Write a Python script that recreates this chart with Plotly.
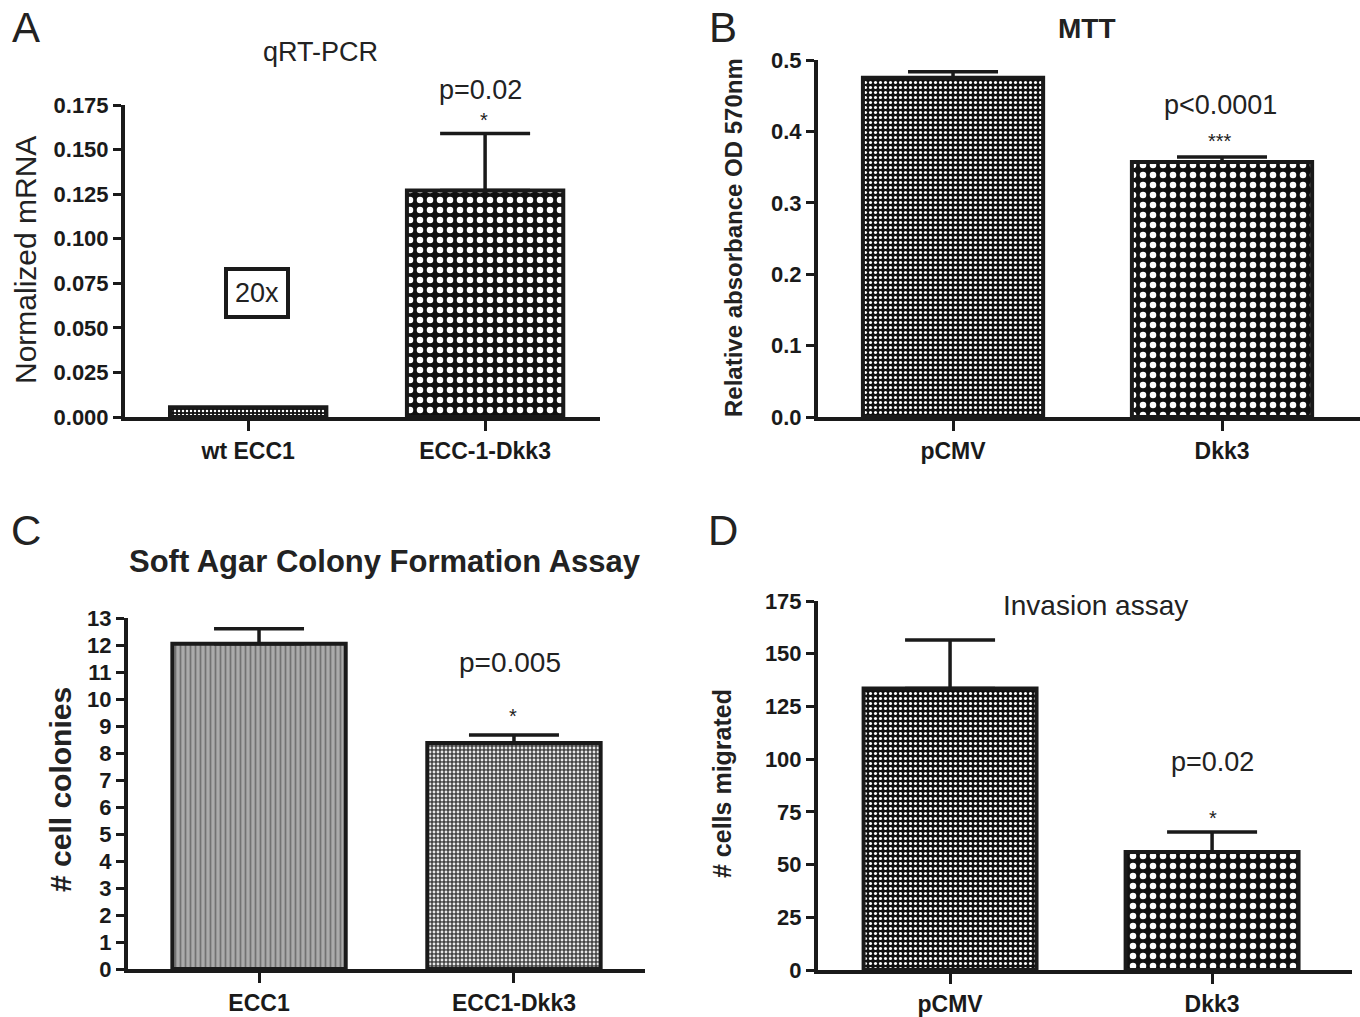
import plotly.graph_objects as go

W, H = 1360, 1017

# ---------------- data ----------------
cats_a = ["wt ECC1", "ECC-1-Dkk3"]
vals_a = [0.0055, 0.127]
err_a = [0.0, 0.032]
ticks_a = [0.0, 0.025, 0.05, 0.075, 0.1, 0.125, 0.15, 0.175]

cats_b = ["pCMV", "Dkk3"]
vals_b = [0.475, 0.357]
err_b = [0.0085, 0.007]
ticks_b = [0.0, 0.1, 0.2, 0.3, 0.4, 0.5]

cats_c = ["ECC1", "ECC1-Dkk3"]
vals_c = [12.05, 8.37]
err_c = [0.55, 0.3]
ticks_c = list(range(0, 14))

cats_d = ["pCMV", "Dkk3"]
vals_d = [133.5, 56.0]
err_d = [23.0, 9.5]
ticks_d = [0, 25, 50, 75, 100, 125, 150, 175]

FONT = "Liberation Sans, Arial, sans-serif"
INK = "#1a1a1a"

def px(x):
    return x / W

def py(y):
    return 1 - y / H

fig = go.Figure()

def add_panel(idx, cats, vals, errs, patterns, width):
    xa = "x" if idx == 1 else f"x{idx}"
    ya = "y" if idx == 1 else f"y{idx}"
    for i, (c, v, e) in enumerate(zip(cats, vals, errs)):
        pat = patterns[i]
        fig.add_trace(go.Bar(
            x=[c], y=[v], xaxis=xa, yaxis=ya, width=width,
            marker=dict(color=pat["bg"], line=dict(color=INK, width=4),
                        pattern=dict(shape=pat["shape"], fgcolor=pat["fg"], bgcolor=pat["bg"],
                                     size=pat["size"], solidity=pat["sol"], fillmode="replace")),
            error_y=dict(type="data", symmetric=False, array=[e], arrayminus=[0],
                         color=INK, thickness=3.5, width=45, visible=e > 0),
            showlegend=False, hoverinfo="skip",
        ))

fine = dict(shape=".", fg="white", bg="#111", size=5, sol=0.3)
coarse = dict(shape=".", fg="white", bg="#111", size=10, sol=0.33)
tiny = dict(shape=".", fg="white", bg="#111", size=4, sol=0.3)
gray1 = dict(shape="|", fg="#727272", bg="#ababab", size=5, sol=0.35)
gray2 = dict(shape=".", fg="#e8e8e8", bg="#444444", size=4, sol=0.4)

add_panel(1, cats_a, vals_a, err_a, [tiny, coarse], 0.66)
add_panel(2, cats_b, vals_b, err_b, [fine, coarse], 0.67)
add_panel(3, cats_c, vals_c, err_c, [gray1, gray2], 0.68)
add_panel(4, cats_d, vals_d, err_d, [fine, coarse], 0.66)

def xaxis(dom, rng, anchor):
    return dict(domain=dom, range=rng, anchor=anchor, type="category", automargin=False,
                showline=True, linecolor=INK, linewidth=4, ticks="outside",
                ticklen=10, tickwidth=3, tickcolor=INK, showgrid=False, zeroline=False,
                tickfont=dict(family=FONT, size=23, color=INK, weight="bold"))

def yaxis(dom, rng, anchor, tv, fmt):
    return dict(domain=dom, range=rng, anchor=anchor, tickvals=tv, tickformat=fmt,
                automargin=False,
                showline=True, linecolor=INK, linewidth=4, ticks="outside",
                ticklen=8, tickwidth=3, tickcolor=INK, showgrid=False, zeroline=False,
                tickfont=dict(family=FONT, size=22, color=INK, weight="bold"))

fig.update_layout(
    template="none",
    width=W, height=H, margin=dict(l=0, r=0, t=0, b=0, pad=0, autoexpand=False),
    paper_bgcolor="white", plot_bgcolor="white", bargap=0,
    xaxis=xaxis([px(125), px(600)], [-0.52, 1.485], "y"),
    yaxis=yaxis([py(417), py(105)], [0, 0.175], "x", ticks_a, ".3f"),
    xaxis2=xaxis([px(818), px(1360)], [-0.502, 1.513], "y2"),
    yaxis2=yaxis([py(417), py(60)], [0, 0.5], "x2", ticks_b, ".1f"),
    xaxis3=xaxis([px(128), px(645)], [-0.514, 1.514], "y3"),
    yaxis3=yaxis([py(969), py(618)], [0, 13], "x3", ticks_c, "d"),
    xaxis4=xaxis([px(818), px(1352)], [-0.504, 1.534], "y4"),
    yaxis4=yaxis([py(970), py(601)], [0, 175], "x4", ticks_d, "d"),
)

def txt(x, y, s, size, bold=False, angle=0, **kw):
    fig.add_annotation(x=px(x), y=py(y), xref="paper", yref="paper", text=s,
                       showarrow=False, textangle=angle, xanchor="center", yanchor="middle",
                       font=dict(family=FONT, size=size, color="#222",
                                 weight="bold" if bold else "normal"), **kw)

# panel letters
txt(26, 27, "A", 42)
txt(723, 27, "B", 42)
txt(26, 530, "C", 42)
txt(723, 530, "D", 42)

# titles
txt(320, 52, "qRT-PCR", 27)
txt(1087, 28, "MTT", 28, bold=True)
txt(385, 561, "Soft Agar Colony Formation Assay", 31, bold=True)
txt(1095, 605, "Invasion assay", 28)

# y titles
txt(25, 260, "Normalized mRNA", 30, angle=-90)
txt(733, 238, "Relative absorbance OD 570nm", 24, bold=True, angle=-90)
txt(60, 790, "# cell colonies", 30, bold=True, angle=-90)
txt(722, 784, "# cells migrated", 25, bold=True, angle=-90)

# p-values and stars
txt(480, 90, "p=0.02", 27)
txt(484, 120, "*", 20)
txt(1220, 105, "p&lt;0.0001", 27)
txt(1220, 141, "***", 20)
txt(510, 662, "p=0.005", 28)
txt(513, 716, "*", 20)
txt(1212, 762, "p=0.02", 27)
txt(1213, 818, "*", 20)

# 20x box
txt(257, 293, "20x", 27, bordercolor=INK, borderwidth=4, borderpad=7, bgcolor="white")

fig.write_html(
    "out.html",
    config={"displayModeBar": False, "staticPlot": True},
    post_script="document.body.style.margin='0px';document.body.style.padding='0px';"
                "document.documentElement.style.overflow='hidden';",
)
